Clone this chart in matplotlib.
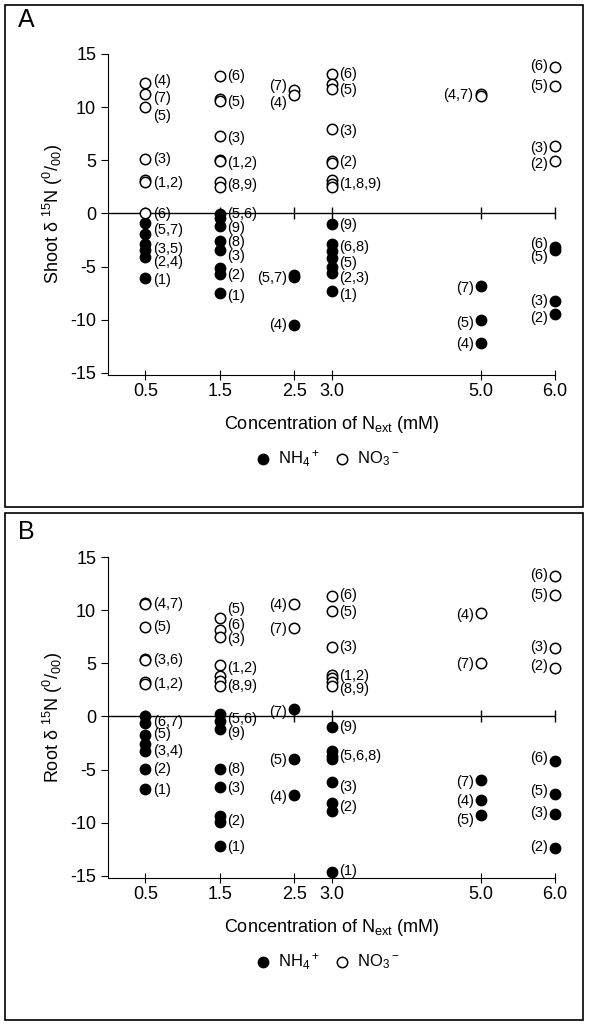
import numpy as np
import matplotlib
matplotlib.use("Agg")
import matplotlib.pyplot as plt
import matplotlib.patches as mpatches

plt.rcParams['font.family'] = ['Liberation Sans', 'DejaVu Sans']
plt.rcParams['mathtext.fontset'] = 'custom'
plt.rcParams['mathtext.rm'] = 'Liberation Sans'
plt.rcParams['mathtext.it'] = 'Liberation Sans:italic'
plt.rcParams['axes.unicode_minus'] = False

conc_ticks = [0.5, 1.5, 2.5, 3.0, 5.0, 6.0]
conc_labels = ['0.5', '1.5', '2.5', '3.0', '5.0', '6.0']
left_side = [2.5, 5.0, 6.0]  # labels are written left of the points here

# ---- A: shoot ----
shoot_no3_x = [0.5] * 7 + [1.5] * 8 + [2.5] * 2 + [3.0] * 9 + [5.0] * 2 + [6.0] * 4
shoot_no3_y = [12.3, 11.2, 10.0, 5.1, 3.1, 3.0, 0.0,
               12.9, 10.8, 10.6, 7.3, 5.0, 4.9, 3.0, 2.5,
               11.6, 11.1,
               13.1, 12.2, 11.7, 7.9, 4.9, 4.7, 3.1, 2.8, 2.5,
               11.2, 11.0,
               13.8, 12.0, 6.3, 4.95]
shoot_nh4_x = [0.5] * 6 + [1.5] * 8 + [2.5] * 3 + [3.0] * 7 + [5.0] * 3 + [6.0] * 4
shoot_nh4_y = [-0.9, -1.9, -2.9, -3.4, -4.1, -6.1,
               -0.1, -0.4, -1.2, -2.6, -3.4, -5.1, -5.7, -7.45,
               -5.8, -6.0, -10.5,
               -1.0, -2.9, -3.5, -4.2, -5.0, -5.6, -7.3,
               -6.85, -10.05, -12.2,
               -3.2, -3.4, -8.2, -9.45]
shoot_lab_x = [0.5] * 10 + [1.5] * 11 + [2.5] * 4 + [3.0] * 10 + [5.0] * 4 + [6.0] * 8
shoot_lab_y = [12.5, 10.9, 9.2, 5.1, 2.9, -0.1, -1.55, -3.36, -4.6, -6.3,
               12.9, 10.5, 7.05, 4.76, 2.67, -0.1, -1.33, -2.7, -4.0, -5.76, -7.8,
               11.95, 10.4, -6.1, -10.5,
               13.1, 11.6, 7.8, 4.8, 2.76, -1.08, -3.2, -4.67, -6.1, -7.7,
               11.1, -7.0, -10.35, -12.3,
               13.9, 12.0, 6.2, 4.64, -2.86, -4.1, -8.26, -9.8]
shoot_lab_txt = ['(4)', '(7)', '(5)', '(3)', '(1,2)', '(6)', '(5,7)', '(3,5)', '(2,4)', '(1)',
                 '(6)', '(5)', '(3)', '(1,2)', '(8,9)', '(5,6)', '(9)', '(8)', '(3)', '(2)', '(1)',
                 '(7)', '(4)', '(5,7)', '(4)',
                 '(6)', '(5)', '(3)', '(2)', '(1,8,9)', '(9)', '(6,8)', '(5)', '(2,3)', '(1)',
                 '(4,7)', '(7)', '(5)', '(4)',
                 '(6)', '(5)', '(3)', '(2)', '(6)', '(5)', '(3)', '(2)']

# ---- B: root ----
root_no3_x = [0.5] * 7 + [1.5] * 7 + [2.5] * 2 + [3.0] * 7 + [5.0] * 2 + [6.0] * 4
root_no3_y = [10.7, 10.6, 8.46, 5.36, 5.3, 3.2, 3.1,
              9.25, 8.15, 7.47, 4.87, 3.78, 3.3, 2.84,
              10.56, 8.3,
              11.3, 9.93, 6.5, 3.94, 3.6, 3.2, 2.84,
              9.7, 5.03,
              13.2, 11.43, 6.44, 4.56]
root_nh4_x = [0.5] * 7 + [1.5] * 8 + [2.5] * 3 + [3.0] * 8 + [5.0] * 3 + [6.0] * 4
root_nh4_y = [0.0, -0.6, -1.7, -2.6, -3.25, -4.9, -6.85,
              0.2, -0.45, -1.15, -4.9, -6.6, -9.4, -9.9, -12.15,
              0.66, -4.0, -7.4,
              -0.97, -3.25, -3.7, -4.0, -6.15, -8.1, -8.9, -14.65,
              -5.97, -7.87, -9.28,
              -4.19, -7.25, -9.2, -12.4]
root_lab_x = [0.5] * 9 + [1.5] * 11 + [2.5] * 5 + [3.0] * 10 + [5.0] * 5 + [6.0] * 8
root_lab_y = [10.6, 8.46, 5.34, 3.1, -0.53, -1.69, -3.25, -4.97, -6.9,
              10.1, 8.6, 7.3, 4.56, 2.84, -0.28, -1.53, -4.97, -6.7, -9.8, -12.3,
              10.5, 8.25, 0.4, -4.1, -7.6,
              11.43, 9.87, 6.5, 3.84, 2.6, -0.97, -3.72, -6.6, -8.56, -14.56,
              9.56, 4.94, -6.15, -7.94, -9.72,
              13.3, 11.43, 6.53, 4.72, -3.87, -7.0, -9.1, -12.3]
root_lab_txt = ['(4,7)', '(5)', '(3,6)', '(1,2)', '(6,7)', '(5)', '(3,4)', '(2)', '(1)',
                '(5)', '(6)', '(3)', '(1,2)', '(8,9)', '(5,6)', '(9)', '(8)', '(3)', '(2)', '(1)',
                '(4)', '(7)', '(7)', '(5)', '(4)',
                '(6)', '(5)', '(3)', '(1,2)', '(8,9)', '(9)', '(5,6,8)', '(3)', '(2)', '(1)',
                '(4)', '(7)', '(7)', '(4)', '(5)',
                '(6)', '(5)', '(3)', '(2)', '(6)', '(5)', '(3)', '(2)']


def draw_panel(ax, nh4_x, nh4_y, no3_x, no3_y, lab_x, lab_y, lab_txt, ylabel):
    ax.axhline(0, xmin=0, xmax=1, color='black', lw=1.0, zorder=1)
    ax.plot(conc_ticks, [0] * len(conc_ticks), ls='none', marker='|',
            ms=9, mew=1.0, color='black', zorder=1, clip_on=False)
    h1 = ax.scatter(nh4_x, nh4_y, s=56, facecolor='black', edgecolor='black',
                    lw=1.0, zorder=3, clip_on=False, label='NH$_4$$^+$')
    h2 = ax.scatter(no3_x, no3_y, s=56, facecolor='white', edgecolor='black',
                    lw=1.1, zorder=3, clip_on=False, label='NO$_3$$^-$')
    for x, y, t in zip(lab_x, lab_y, lab_txt):
        if x in left_side:
            ax.annotate(t, (x, y), xytext=(-5, 0), textcoords='offset points',
                        ha='right', va='center', fontsize=10.5)
        else:
            ax.annotate(t, (x, y), xytext=(5.5, 0), textcoords='offset points',
                        ha='left', va='center', fontsize=10.5)

    ax.set_xlim(0, 6)
    ax.set_ylim(-15.2, 15)
    ax.set_xticks(conc_ticks)
    ax.set_xticklabels(conc_labels)
    ax.set_yticks([15, 10, 5, 0, -5, -10, -15])
    ax.spines[['right', 'top']].set_visible(False)
    ax.tick_params(axis='x', direction='inout', length=7, labelsize=13, pad=2)
    ax.tick_params(axis='y', direction='out', length=5, labelsize=13)
    ax.set_xlabel('Concentration of N$_{\\mathrm{ext}}$ (mM)', fontsize=13, labelpad=10)
    ax.set_ylabel(ylabel, fontsize=13, labelpad=4)
    ax.legend(handles=[h1, h2], loc='center', bbox_to_anchor=(0.49, -0.26),
              ncol=2, frameon=False, fontsize=12, handlelength=1.0,
              handletextpad=0.4, columnspacing=0.8, scatterpoints=1)


fig = plt.figure(figsize=(6, 10.26), dpi=100)
axA = fig.add_axes([0.18, 0.6345, 0.745, 0.3129])
axB = fig.add_axes([0.18, 0.1442, 0.745, 0.3129])

draw_panel(axA, shoot_nh4_x, shoot_nh4_y, shoot_no3_x, shoot_no3_y,
           shoot_lab_x, shoot_lab_y, shoot_lab_txt,
           'Shoot δ $^{15}$N ($^{0}$/$_{00}$)')
draw_panel(axB, root_nh4_x, root_nh4_y, root_no3_x, root_no3_y,
           root_lab_x, root_lab_y, root_lab_txt,
           'Root δ $^{15}$N ($^{0}$/$_{00}$)')

# panel frames
for y0, h in [(1 - 507 / 1026, 502 / 1026), (1 - 1020 / 1026, 507 / 1026)]:
    fig.add_artist(mpatches.Rectangle((5 / 600, y0), 578 / 600, h, transform=fig.transFigure,
                                      fill=False, edgecolor='black', lw=1.2))

fig.text(18 / 600, 1 - 20 / 1026, 'A', fontsize=18, ha='left', va='center')
fig.text(18 / 600, 1 - 532 / 1026, 'B', fontsize=18, ha='left', va='center')

plt.savefig('out.png', dpi=100)
